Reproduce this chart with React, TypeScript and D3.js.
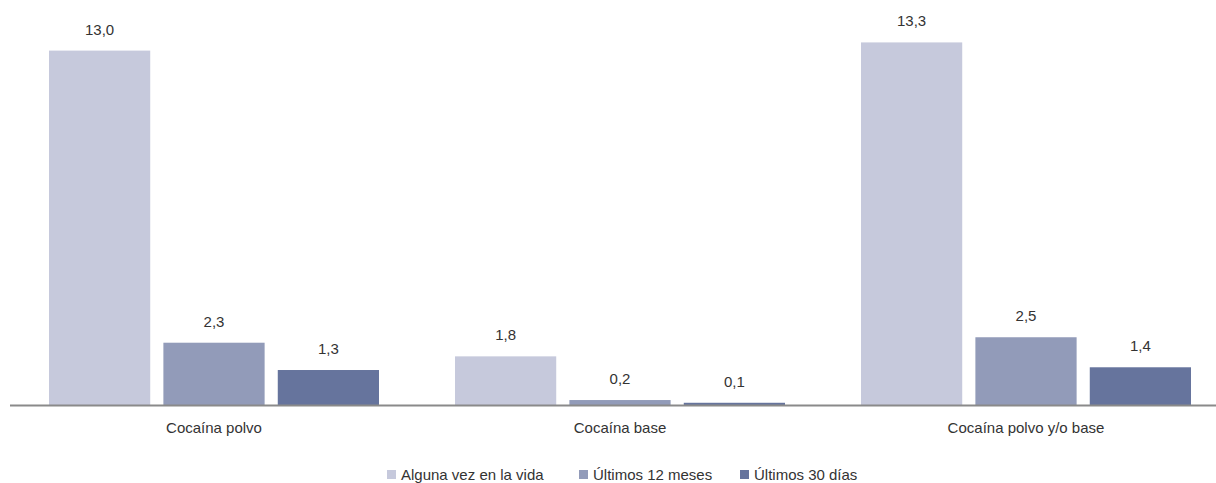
import React from "react";
import * as d3 from "d3";

const categories = ["Cocaína polvo", "Cocaína base", "Cocaína polvo y/o base"];
const seriesNames = ["Alguna vez en la vida", "Últimos 12 meses", "Últimos 30 días"];
const alguna = [13.0, 1.8, 13.3];
const ultimos12 = [2.3, 0.2, 2.5];
const ultimos30 = [1.3, 0.1, 1.4];
const colors = ["#c6c9dc", "#929bb9", "#66749d"];

const W = 1216;
const H = 483;
const FONT = "'Liberation Sans', Arial, Helvetica, sans-serif";

export default function App() {
  const series = [alguna, ultimos12, ultimos30];
  const x0 = d3.scaleBand<string>().domain(categories).range([14, 1232]).padding(0);
  const x1 = d3
    .scaleBand<number>()
    .domain([0, 1, 2])
    .range([35, x0.bandwidth() - 41])
    .paddingInner(0.115)
    .paddingOuter(0);
  const y = d3.scaleLinear().domain([0, 14]).range([405.5, 23.3]);
  const fmt = (v: number) => v.toFixed(1).replace(".", ",");

  const legendX = [387, 579, 740];

  return (
    <svg
      width={W}
      height={H}
      style={{ position: "absolute", left: 0, top: 0, background: "#fff" }}
      fontFamily={FONT}
    >
      {categories.map((c, ci) => (
        <g key={c} transform={`translate(${x0(c)},0)`}>
          {series.map((s, si) => (
            <g key={si}>
              <rect
                x={x1(si)}
                y={y(s[ci])}
                width={x1.bandwidth()}
                height={y(0) - y(s[ci])}
                fill={colors[si]}
              />
              <text
                x={(x1(si) as number) + x1.bandwidth() / 2}
                y={y(s[ci]) - 16}
                textAnchor="middle"
                fontSize={15}
                fill="#333"
              >
                {fmt(s[ci])}
              </text>
            </g>
          ))}
          <text
            x={((x1(0) as number) + (x1(2) as number) + x1.bandwidth()) / 2}
            y={433}
            textAnchor="middle"
            fontSize={15}
            fill="#333"
          >
            {c}
          </text>
        </g>
      ))}
      <line x1={10} x2={1216} y1={y(0)} y2={y(0)} stroke="#8a8a8a" strokeWidth={2} />
      {seriesNames.map((n, i) => (
        <g key={n}>
          <rect x={legendX[i]} y={470} width={9} height={9} fill={colors[i]} />
          <text x={legendX[i] + 14} y={480} fontSize={15} fill="#333">
            {n}
          </text>
        </g>
      ))}
    </svg>
  );
}
